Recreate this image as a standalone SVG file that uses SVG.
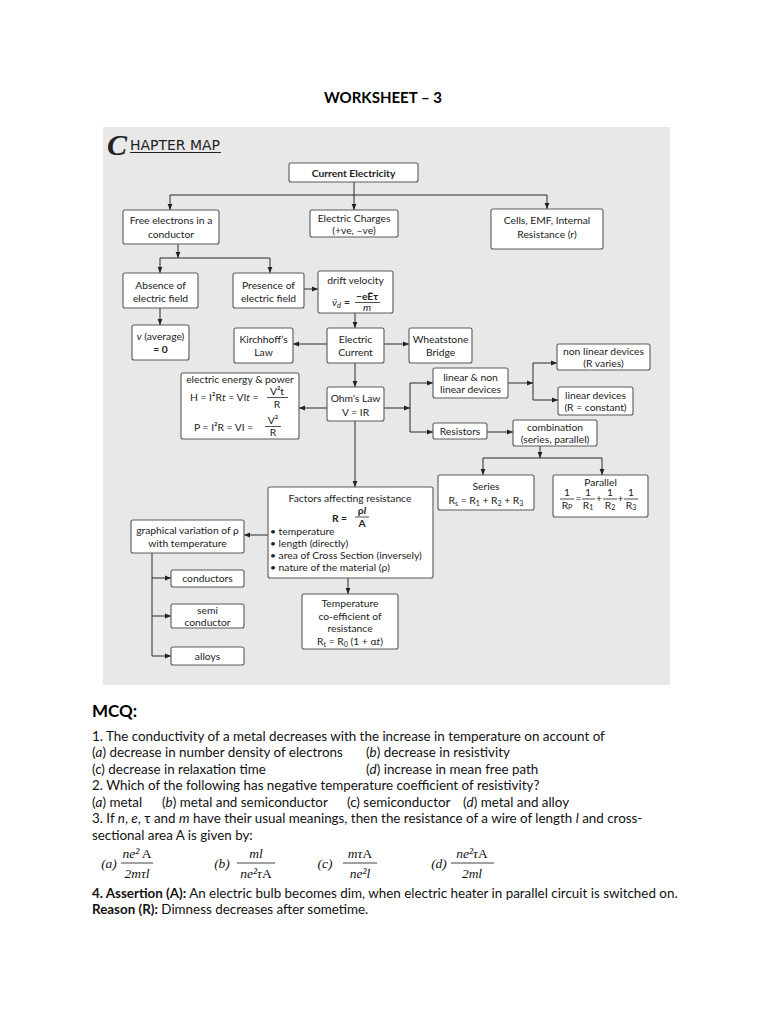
<svg xmlns="http://www.w3.org/2000/svg" width="768" height="1024" viewBox="0 0 768 1024">
<defs>
<marker id="ah" viewBox="0 0 10 10" refX="10" refY="5" markerWidth="6" markerHeight="6" orient="auto" markerUnits="userSpaceOnUse"><path d="M0,1 L10,5 L0,9 z" fill="#222"/></marker>
<style>
.bx{fill:#fff;stroke:#5a5a5a;stroke-width:1.1}
.t{font-family:Lato,"Liberation Sans",sans-serif;font-size:10.3px;fill:#222;text-anchor:middle}
.tl{font-family:Lato,"Liberation Sans",sans-serif;font-size:10.3px;fill:#222}
.c{fill:none;stroke:#2a2a2a;stroke-width:1}
.a{marker-end:url(#ah)}
.m{font-family:Lato,"Liberation Sans",sans-serif;font-size:13.4px;fill:#111}
.f{font-family:"Liberation Serif",serif;font-size:13.5px;font-style:italic;fill:#111;text-anchor:middle}
.fl{stroke:#111;stroke-width:0.8}
</style>
</defs>
<rect width="768" height="1024" fill="#fff"/>
<text x="383" y="103" font-family="Lato,'Liberation Sans',sans-serif" font-size="15" font-weight="bold" text-anchor="middle" fill="#000">WORKSHEET – 3</text>
<rect x="103" y="127" width="567" height="558" fill="#e8e8e8"/>
<g id="chapter-map-title">
<text x="107" y="155" font-family="'Liberation Serif',serif" font-size="30" font-style="italic" font-weight="bold" fill="#222">C</text>
<text x="130" y="149.5" font-family="'DejaVu Sans',sans-serif" font-size="14.5" fill="#222" textLength="90" lengthAdjust="spacingAndGlyphs">HAPTER MAP</text>
<line x1="130" y1="152.5" x2="221" y2="152.5" stroke="#222" stroke-width="1"/>
</g>
<g id="connectors">
<path class="c a" d="M354,182 V210"/>
<path class="c" d="M170,195 H547"/>
<path class="c a" d="M170,195 V210"/>
<path class="c a" d="M547,195 V209"/>
<path class="c a" d="M178,244 V258"/>
<path class="c" d="M160,258 H270"/>
<path class="c a" d="M160,258 V273"/>
<path class="c a" d="M270,258 V273"/>
<path class="c a" d="M304,289 H318"/>
<path class="c a" d="M160,308 V325"/>
<path class="c a" d="M355,313 V328"/>
<path class="c a" d="M327,344 H293"/>
<path class="c a" d="M384,344 H409"/>
<path class="c a" d="M355,363 V387"/>
<path class="c a" d="M327,408 H299"/>
<path class="c a" d="M384,408 H410"/>
<path class="c" d="M410,383 V432"/>
<path class="c a" d="M410,383 H433"/>
<path class="c a" d="M410,432 H433"/>
<path class="c a" d="M508,383 H533"/>
<path class="c" d="M533,363 V400"/>
<path class="c a" d="M533,363 H557"/>
<path class="c a" d="M533,400 H558"/>
<path class="c a" d="M487,432 H513"/>
<path class="c a" d="M540,446 V458"/>
<path class="c" d="M483,458 H602"/>
<path class="c a" d="M483,458 V475"/>
<path class="c a" d="M602,458 V475"/>
<path class="c a" d="M355,421 V487"/>
<path class="c a" d="M268,535 H244"/>
<path class="c" d="M152,553 V656"/>
<path class="c a" d="M152,578 H171"/>
<path class="c a" d="M152,616 H171"/>
<path class="c a" d="M152,656 H171"/>
<path class="c a" d="M348,578 V594"/>
</g>
<g id="current-electricity"><rect class="bx" x="289" y="163" width="129" height="19" rx="2"/><text class="t" x="353.5" y="176.5" font-weight="bold" font-size="11">Current Electricity</text></g>
<g id="free-electrons"><rect class="bx" x="123" y="210" width="96" height="34" rx="2"/><text class="t" x="171" y="224">Free electrons in a</text><text class="t" x="171" y="238">conductor</text></g>
<g id="electric-charges"><rect class="bx" x="310" y="210" width="88" height="27" rx="2"/><text class="t" x="354" y="221.5">Electric Charges</text><text class="t" x="354" y="234">(+ve, –ve)</text></g>
<g id="cells"><rect class="bx" x="491" y="209" width="112" height="40" rx="2"/><text class="t" x="547" y="224" font-size="11.5">Cells, EMF, Internal</text><text class="t" x="547" y="238" font-size="11.5">Resistance (r)</text></g>
<g id="absence"><rect class="bx" x="123" y="273" width="75" height="35" rx="2"/><text class="t" x="160.5" y="288.5">Absence of</text><text class="t" x="160.5" y="301.5">electric field</text></g>
<g id="presence"><rect class="bx" x="233" y="273" width="71" height="35" rx="2"/><text class="t" x="268.5" y="288.5">Presence of</text><text class="t" x="268.5" y="301.5">electric field</text></g>
<g id="drift-velocity"><rect class="bx" x="318" y="271" width="75" height="42" rx="2"/><text class="t" x="355.5" y="283.5">drift velocity</text>
<text class="tl" x="332" y="306" font-style="italic" font-size="11">v̄<tspan font-size="7.5" dy="2">d</tspan></text><text class="tl" x="344" y="306" font-weight="bold" font-size="11">=</text>
<text class="t" x="367" y="299.5" font-weight="bold" font-size="10.5">−eĒτ</text><line x1="355" y1="302.5" x2="380" y2="302.5" stroke="#222" stroke-width="0.8"/><text class="t" x="367" y="311" font-style="italic">m</text></g>
<g id="v-average"><rect class="bx" x="132" y="325" width="57" height="35" rx="2"/><text class="t" x="160.5" y="340"><tspan font-style="italic">v</tspan> (average)</text><text class="t" x="160.5" y="353" font-weight="bold">= 0</text></g>
<g id="kirchhoff"><rect class="bx" x="234" y="328" width="59" height="35" rx="2"/><text class="t" x="263.5" y="343">Kirchhoff’s</text><text class="t" x="263.5" y="356">Law</text></g>
<g id="electric-current"><rect class="bx" x="327" y="328" width="57" height="35" rx="2"/><text class="t" x="355.5" y="343">Electric</text><text class="t" x="355.5" y="356">Current</text></g>
<g id="wheatstone"><rect class="bx" x="409" y="328" width="63" height="35" rx="2"/><text class="t" x="440.5" y="343">Wheatstone</text><text class="t" x="440.5" y="356">Bridge</text></g>
<g id="ohms-law"><rect class="bx" x="327" y="387" width="57" height="34" rx="2"/><text class="t" x="355.5" y="402" font-size="10.8">Ohm’s Law</text><text class="t" x="355.5" y="415.5" font-size="10.8">V = IR</text></g>
<g id="energy-power"><rect class="bx" x="181" y="373" width="118" height="66" rx="2"/><text class="t" x="240" y="383" font-size="11">electric energy &amp; power</text>
<text class="tl" x="190" y="401" font-size="11">H = I²R<tspan font-style="italic">t</tspan> = VI<tspan font-style="italic">t</tspan> =</text>
<text class="t" x="277" y="394.5" font-size="11">V²t</text><line x1="267" y1="397.5" x2="288" y2="397.5" stroke="#222" stroke-width="0.8"/><text class="t" x="277" y="407.5" font-size="11">R</text>
<text class="tl" x="194" y="431" font-size="11">P = I²R = VI =</text>
<text class="t" x="273" y="423.5" font-size="11">V²</text><line x1="265" y1="426.5" x2="281" y2="426.5" stroke="#222" stroke-width="0.8"/><text class="t" x="273" y="436" font-size="11">R</text></g>
<g id="linear-nonlinear"><rect class="bx" x="433" y="368" width="75" height="30" rx="2"/><text class="t" x="470.5" y="381">linear &amp; non</text><text class="t" x="470.5" y="393">linear devices</text></g>
<g id="resistors"><rect class="bx" x="433" y="423" width="54" height="16" rx="2"/><text class="t" x="460" y="434.5">Resistors</text></g>
<g id="non-linear-devices"><rect class="bx" x="557" y="344" width="93" height="26" rx="2"/><text class="t" x="603.5" y="354.5">non linear devices</text><text class="t" x="603.5" y="366.5">(R varies)</text></g>
<g id="linear-devices"><rect class="bx" x="558" y="387" width="75" height="28" rx="2"/><text class="t" x="595.5" y="398.5">linear devices</text><text class="t" x="595.5" y="411">(R = constant)</text></g>
<g id="combination"><rect class="bx" x="513" y="420" width="84" height="26" rx="2"/><text class="t" x="555" y="431">combination</text><text class="t" x="555" y="443">(series, parallel)</text></g>
<g id="series"><rect class="bx" x="438" y="475" width="96" height="35" rx="2"/><text class="t" x="486" y="490">Series</text><text class="t" x="486" y="504">R<tspan font-size="7" dy="2">s</tspan><tspan dy="-2"> = R</tspan><tspan font-size="7" dy="2">1</tspan><tspan dy="-2"> + R</tspan><tspan font-size="7" dy="2">2</tspan><tspan dy="-2"> + R</tspan><tspan font-size="7" dy="2">3</tspan></text></g>
<g id="parallel"><rect class="bx" x="553" y="475" width="95" height="42" rx="2"/><text class="t" x="600.5" y="485.5">Parallel</text>
<text class="t" x="567" y="496">1</text><line x1="560" y1="499" x2="574" y2="499" stroke="#222" stroke-width="0.8"/><text class="t" x="567" y="509">R<tspan font-size="7" dy="1">P</tspan></text>
<text class="t" x="578.5" y="502">=</text>
<text class="t" x="588" y="496">1</text><line x1="582" y1="499" x2="595" y2="499" stroke="#222" stroke-width="0.8"/><text class="t" x="588" y="509">R<tspan font-size="7" dy="1">1</tspan></text>
<text class="t" x="599" y="502">+</text>
<text class="t" x="610" y="496">1</text><line x1="603" y1="499" x2="617" y2="499" stroke="#222" stroke-width="0.8"/><text class="t" x="610" y="509">R<tspan font-size="7" dy="1">2</tspan></text>
<text class="t" x="620.5" y="502">+</text>
<text class="t" x="631" y="496">1</text><line x1="624" y1="499" x2="638" y2="499" stroke="#222" stroke-width="0.8"/><text class="t" x="631" y="509">R<tspan font-size="7" dy="1">3</tspan></text></g>
<g id="factors"><rect class="bx" x="268" y="487" width="165" height="91" rx="2"/><text class="t" x="350" y="501.5">Factors affecting resistance</text>
<text class="tl" x="332" y="522" font-weight="bold">R =</text>
<text class="t" x="362" y="514" font-weight="bold">ρ<tspan font-style="italic">l</tspan></text><line x1="355" y1="517" x2="369" y2="517" stroke="#222" stroke-width="0.8"/><text class="t" x="362" y="527" font-weight="bold" font-family="'Liberation Serif',serif">A</text>
<text class="tl" x="270" y="534.5">• temperature</text>
<text class="tl" x="270" y="546.5">• length (directly)</text>
<text class="tl" x="270" y="559">• area of Cross Section (inversely)</text>
<text class="tl" x="270" y="571">• nature of the material (ρ)</text></g>
<g id="graphical-variation"><rect class="bx" x="131" y="520" width="113" height="33" rx="2"/><text class="t" x="187.5" y="534" font-size="10.8">graphical variation of ρ</text><text class="t" x="187.5" y="547" font-size="10.8">with temperature</text></g>
<g id="conductors"><rect class="bx" x="171" y="570" width="73" height="17" rx="2"/><text class="t" x="207.5" y="582">conductors</text></g>
<g id="semi-conductor"><rect class="bx" x="171" y="604" width="73" height="24" rx="2"/><text class="t" x="207.5" y="614">semi</text><text class="t" x="207.5" y="626">conductor</text></g>
<g id="alloys"><rect class="bx" x="171" y="647" width="73" height="18" rx="2"/><text class="t" x="207.5" y="660">alloys</text></g>
<g id="temperature-coefficient"><rect class="bx" x="302" y="594" width="96" height="55" rx="2"/><text class="t" x="350" y="607">Temperature</text><text class="t" x="350" y="619.5">co-efficient of</text><text class="t" x="350" y="632">resistance</text><text class="t" x="350" y="645">R<tspan font-size="7" dy="2">t</tspan><tspan dy="-2"> = R</tspan><tspan font-size="7" dy="2">0</tspan><tspan dy="-2"> (1 + α</tspan><tspan font-style="italic">t</tspan>)</text></g>
<g id="mcq">
<text x="92" y="717" font-family="Lato,'Liberation Sans',sans-serif" font-size="17" font-weight="bold" fill="#000">MCQ:</text>
<text class="m" x="92" y="741">1. The conductivity of a metal decreases with the increase in temperature on account of</text>
<text class="m" x="92" y="757">(<tspan font-style="italic">a</tspan>) decrease in number density of electrons</text>
<text class="m" x="366" y="757">(<tspan font-style="italic">b</tspan>) decrease in resistivity</text>
<text class="m" x="92" y="774">(c) decrease in relaxation time</text>
<text class="m" x="366" y="774">(<tspan font-style="italic">d</tspan>) increase in mean free path</text>
<text class="m" x="92" y="790">2. Which of the following has negative temperature coefficient of resistivity?</text>
<text class="m" x="92" y="807">(<tspan font-style="italic">a</tspan>) metal</text>
<text class="m" x="162" y="807">(<tspan font-style="italic">b</tspan>) metal and semiconductor</text>
<text class="m" x="347" y="807">(c) semiconductor</text>
<text class="m" x="463" y="807">(<tspan font-style="italic">d</tspan>) metal and alloy</text>
<text class="m" x="92" y="823">3. If <tspan font-style="italic">n</tspan>, <tspan font-style="italic">e</tspan>, τ and <tspan font-style="italic">m</tspan> have their usual meanings, then the resistance of a wire of length <tspan font-style="italic">l</tspan> and cross-</text>
<text class="m" x="92" y="840">sectional area A is given by:</text>
<text class="f" x="109" y="868">(a)</text>
<text class="f" x="137" y="858">ne²<tspan font-style="normal"> A</tspan></text><line class="fl" x1="121" y1="863" x2="153" y2="863"/><text class="f" x="137" y="878">2mτl</text>
<text class="f" x="222" y="868">(b)</text>
<text class="f" x="256" y="858">ml</text><line class="fl" x1="237" y1="863" x2="275" y2="863"/><text class="f" x="256" y="878">ne²τ<tspan font-style="normal">A</tspan></text>
<text class="f" x="325" y="868">(c)</text>
<text class="f" x="360" y="858">mτ<tspan font-style="normal">A</tspan></text><line class="fl" x1="343" y1="863" x2="377" y2="863"/><text class="f" x="360" y="878">ne²l</text>
<text class="f" x="439" y="868">(d)</text>
<text class="f" x="472" y="858">ne²τ<tspan font-style="normal">A</tspan></text><line class="fl" x1="451" y1="863" x2="494" y2="863"/><text class="f" x="472" y="878">2ml</text>
<text class="m" x="92" y="898"><tspan font-weight="bold">4. Assertion (A):</tspan> An electric bulb becomes dim, when electric heater in parallel circuit is switched on.</text>
<text class="m" x="92" y="914"><tspan font-weight="bold">Reason (R):</tspan> Dimness decreases after sometime.</text>
</g>
</svg>
